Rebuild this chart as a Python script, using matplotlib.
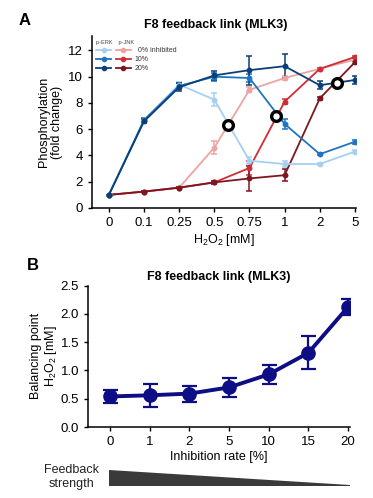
import numpy as np
import matplotlib
matplotlib.use("Agg")
import matplotlib.pyplot as plt
from matplotlib.legend_handler import HandlerTuple
from matplotlib.patches import Polygon

plt.rcParams['font.family'] = ['Liberation Sans', 'DejaVu Sans']
plt.rcParams['mathtext.fontset'] = 'custom'
plt.rcParams['mathtext.rm'] = 'Liberation Sans'
plt.rcParams['mathtext.it'] = 'Liberation Sans:italic'
plt.rcParams['mathtext.bf'] = 'Liberation Sans:bold'

# ---------------- Panel A data ----------------
h2o2_labels = ['0', '0.1', '0.25', '0.5', '0.75', '1', '2', '5']
erk_0 = [1, 6.7, 9.4, 8.25, 3.6, 3.35, 3.35, 4.3]
erk_0_err = [0, 0.15, 0.2, 0.5, 0.25, 0.2, 0.1, 0.12]
erk_10 = [1, 6.7, 9.3, 10.0, 9.9, 6.4, 4.1, 5.05]
erk_10_err = [0, 0.15, 0.2, 0.3, 0.3, 0.35, 0.1, 0.15]
erk_20 = [1, 6.6, 9.2, 10.1, 10.5, 10.8, 9.35, 9.75]
erk_20_err = [0, 0.15, 0.3, 0.35, 1.1, 0.9, 0.3, 0.3]
jnk_0 = [1, 1.25, 1.55, 4.6, 9.0, 9.9, 10.6, 11.3]
jnk_0_err = [0, 0.05, 0.05, 0.5, 0.2, 0.15, 0.1, 0.1]
jnk_10 = [1, 1.25, 1.55, 1.95, 3.05, 8.1, 10.6, 11.5]
jnk_10_err = [0, 0.05, 0.05, 0.1, 0.5, 0.2, 0.1, 0.1]
jnk_20 = [1, 1.25, 1.55, 1.95, 2.25, 2.5, 8.35, 11.1]
jnk_20_err = [0, 0.05, 0.05, 0.1, 0.95, 0.45, 0.1, 0.1]
# balancing points (fractional category position, value)
bal_pos = [3.38, 4.76, 6.49]
bal_val = [6.3, 6.97, 9.52]

# ---------------- Panel B data ----------------
inhib_labels = ['0', '1', '2', '5', '10', '15', '20']
bal_mm = [0.54, 0.56, 0.59, 0.70, 0.93, 1.31, 2.12]
bal_mm_err = [0.12, 0.20, 0.14, 0.17, 0.17, 0.29, 0.15]

c_erk = ['#a6d0f2', '#1f74c4', '#0c3f78']
c_jnk = ['#eea3a3', '#cf2e34', '#7e1620']
c_b = '#0d0d85'

fig = plt.figure(figsize=(3.73, 4.98), dpi=100)

# ---------------- Panel A ----------------
axA = fig.add_axes([92 / 373, 1 - 208 / 498, 264 / 373, 172 / 498])
xA = np.arange(len(h2o2_labels))
erk_series = [(erk_0, erk_0_err), (erk_10, erk_10_err), (erk_20, erk_20_err)]
jnk_series = [(jnk_0, jnk_0_err), (jnk_10, jnk_10_err), (jnk_20, jnk_20_err)]
lines_e, lines_j = [], []
for (vals, err), col in zip(jnk_series, c_jnk):
    axA.errorbar(xA, vals, yerr=err, color=col, lw=1.3, marker='o', ms=3.2,
                 capsize=2.2, elinewidth=1.1, capthick=1.1, zorder=3)
    lines_j.append(plt.Line2D([], [], color=col, lw=1.3, marker='o', ms=3))
for (vals, err), col in zip(erk_series, c_erk):
    axA.errorbar(xA, vals, yerr=err, color=col, lw=1.3, marker='o', ms=3.2,
                 capsize=2.2, elinewidth=1.1, capthick=1.1, zorder=3)
    lines_e.append(plt.Line2D([], [], color=col, lw=1.3, marker='o', ms=3))
axA.plot(bal_pos, bal_val, ls='none', marker='o', ms=7, mfc='white',
         mec='black', mew=2.4, zorder=5)

axA.set_xlim(-0.48, 7.03)
axA.set_ylim(0, 13.1)
axA.set_yticks([0, 2, 4, 6, 8, 10, 12])
axA.set_xticks(xA)
axA.set_xticklabels(h2o2_labels)
for s in ['top', 'right']:
    axA.spines[s].set_visible(False)
axA.spines['left'].set_linewidth(1.1)
axA.spines['bottom'].set_linewidth(1.1)
axA.tick_params(axis='both', labelsize=9.5, length=3, width=1, direction='out')
axA.set_ylabel('Phosphorylation\n(fold change)', fontsize=9, labelpad=4, linespacing=1.1)
axA.set_xlabel('H$_2$O$_2$ [mM]', fontsize=9, labelpad=2)
axA.set_title('F8 feedback link (MLK3)', fontsize=9, fontweight='bold', pad=6, x=0.47)

leg = axA.legend(handles=[(e, j) for e, j in zip(lines_e, lines_j)],
                 labels=['  0% inhibited', '10%', '20%'],
                 handler_map={tuple: HandlerTuple(ndivide=None, pad=0.7)},
                 handlelength=5.0, fontsize=5, frameon=False,
                 loc='upper left', bbox_to_anchor=(0.0, 1.0),
                 title='p-ERK    p-JNK', title_fontsize=4,
                 alignment='left', labelspacing=0.3, borderaxespad=0.2,
                 handletextpad=0.5)
for t in leg.get_texts():
    t.set_color('#333333')
leg.get_title().set_color('#444444')

fig.text(0.05, 1 - 20 / 498, 'A', fontsize=12, fontweight='bold', va='center')

# ---------------- Panel B ----------------
axB = fig.add_axes([88 / 373, 1 - 427 / 498, 262 / 373, 141.5 / 498])
xB = np.arange(len(inhib_labels))
axB.errorbar(xB, bal_mm, yerr=bal_mm_err, color=c_b, lw=2.8, marker='o',
             ms=9.5, capsize=5.4, elinewidth=1.6, capthick=1.6, zorder=3)
axB.set_xlim(-0.56, 6.05)
axB.set_ylim(0, 2.5)
axB.set_yticks([0.0, 0.5, 1.0, 1.5, 2.0, 2.5])
axB.set_yticklabels(['0.0', '0.5', '1.0', '1.5', '2.0', '2.5'])
axB.set_xticks(xB)
axB.set_xticklabels(inhib_labels)
for s in ['top', 'right']:
    axB.spines[s].set_visible(False)
axB.spines['left'].set_linewidth(1.1)
axB.spines['bottom'].set_linewidth(1.1)
axB.tick_params(axis='both', labelsize=9.5, length=3, width=1, direction='out')
axB.set_ylabel('Balancing point\nH$_2$O$_2$ [mM]', fontsize=9, labelpad=1, linespacing=1.1)
axB.set_xlabel('Inhibition rate [%]', fontsize=9, labelpad=2)
axB.set_title('F8 feedback link (MLK3)', fontsize=9, fontweight='bold', pad=4)

fig.text(0.072, 1 - 266 / 498, 'B', fontsize=12, fontweight='bold', va='center')

# Feedback strength wedge
x0 = 109 / 373
x1 = 350 / 373
ytop = 1 - 470 / 498
ybot = 1 - 486 / 498
yr = 1 - 484.5 / 498
tri = Polygon([[x0, ytop], [x0, ybot], [x1, ybot], [x1, yr]], closed=True,
              transform=fig.transFigure, facecolor='#3a3a3a', edgecolor='none')
fig.patches.append(tri)
fig.text(0.193, 1 - 477 / 498, 'Feedback\nstrength', fontsize=9, ha='center',
         va='center', linespacing=1.15, color='#222222')

fig.savefig('out.png', dpi=100)
